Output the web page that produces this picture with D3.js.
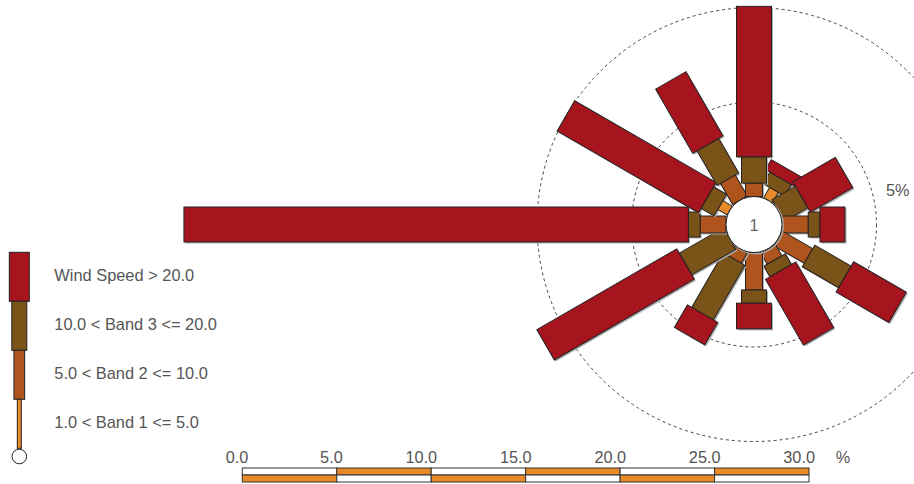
<!DOCTYPE html>
<html>
<head>
<meta charset="utf-8">
<script src="https://cdn.jsdelivr.net/npm/d3@7/dist/d3.min.js"></script>
<style>
  html, body { margin: 0; padding: 0; background: #fff; }
  svg { display: block; }
  text { font-family: "Liberation Sans", Arial, sans-serif; }
</style>
</head>
<body>
<svg id="chart" width="914" height="484"></svg>
<script>
// ---- data (percent of time per direction and speed band) ----
const directions = [0, 30, 60, 90, 120, 150, 180, 210, 240, 270, 300, 330];
const band1 = [0, 0.63, 0, 0, 0, 0, 0, 0, 0, 0, 0.58, 0];
const band2 = [0.71, 0, 0, 1.39, 1.85, 0.69, 1.98, 0.63, 0, 1.37, 0, 1.29];
const band3 = [1.39, 0.71, 1.43, 0.62, 2.22, 0.65, 0.70, 3.33, 2.70, 0.62, 0.79, 2.11];
const band4 = [7.96, 0.61, 2.59, 1.32, 3.22, 4.01, 1.36, 1.38, 8.55, 26.69, 8.64, 3.92];
const calmValue = "1";
const bandLabels = ["1.0 < Band 1 <= 5.0", "5.0 < Band 2 <= 10.0", "10.0 < Band 3 <= 20.0", "Wind Speed > 20.0"];
const ringValues = [5, 10];
const ringLabel = "5%";
const scaleTicks = [0, 5, 10, 15, 20, 25, 30];
const scaleTickLabels = ["0.0", "5.0", "10.0", "15.0", "20.0", "25.0", "30.0"];

// ---- styles ----
const colors = ["#e8892a", "#b0541e", "#7a5318", "#a6141e"];
const widths = [10, 17, 25, 35];
const legendWidths = [4, 10.7, 15, 20];
const textColor = "#555";

const svg = d3.select("#chart");
const cx = 754, cy = 224.5, calmR = 28;
const kPx = 18.9;
const r = d3.scaleLinear().domain([0, 30]).range([calmR, calmR + 30 * kPx]);

// rings
svg.append("g").selectAll("circle").data(ringValues).join("circle")
  .attr("cx", cx).attr("cy", cy).attr("r", d => r(d))
  .attr("fill", "none").attr("stroke", "#444").attr("stroke-width", 1)
  .attr("stroke-dasharray", "3,3");

svg.append("text").attr("x", 886).attr("y", 196)
  .attr("font-size", 16.3).attr("fill", textColor).text(ringLabel);

// build segments
const bands = [band1, band2, band3, band4];
const drawOrder = directions.map((d, i) => i).slice(1).concat([0]);
const rose = svg.append("g");
drawOrder.forEach(i => {
  let cum = 0;
  const segs = [];
  bands.forEach((b, j) => {
    const v = b[i];
    if (v > 0) segs.push({ r0: r(cum), r1: r(cum + v), band: j });
    cum += v;
  });
  const g = rose.append("g");
  // shadow
  g.append("g").attr("transform", `translate(${cx + 1.5},${cy + 1.5}) rotate(${directions[i]})`)
    .selectAll("rect").data(segs).join("rect")
    .attr("x", d => -widths[d.band] / 2).attr("y", d => -d.r1)
    .attr("width", d => widths[d.band]).attr("height", d => d.r1 - d.r0)
    .attr("fill", "#b0b0b0");
  g.append("g").attr("transform", `translate(${cx},${cy}) rotate(${directions[i]})`)
    .selectAll("rect").data(segs).join("rect")
    .attr("x", d => -widths[d.band] / 2).attr("y", d => -d.r1)
    .attr("width", d => widths[d.band]).attr("height", d => d.r1 - d.r0)
    .attr("fill", d => colors[d.band]).attr("stroke", "#222").attr("stroke-width", 1);
});

// calm circle
svg.append("circle").attr("cx", cx + 1.2).attr("cy", cy + 1.2).attr("r", calmR)
  .attr("fill", "none").attr("stroke", "#aaa").attr("stroke-width", 1.5);
svg.append("circle").attr("cx", cx).attr("cy", cy).attr("r", calmR)
  .attr("fill", "#fff").attr("stroke", "#222").attr("stroke-width", 1);
svg.append("text").attr("x", cx).attr("y", cy + 6).attr("text-anchor", "middle")
  .attr("font-size", 16.3).attr("fill", "#666").text(calmValue);

// legend
const lx = 19.3, segH = 49, legTop = 252.3;
const lg = svg.append("g");
const legendOrder = [3, 2, 1, 0];
legendOrder.forEach((b, k) => {
  const y0 = legTop + k * segH;
  lg.append("rect").attr("x", lx - legendWidths[b] / 2).attr("y", y0)
    .attr("width", legendWidths[b]).attr("height", segH)
    .attr("fill", colors[b]).attr("stroke", "#222").attr("stroke-width", 1);
  lg.append("text").attr("x", 54.3).attr("y", y0 + segH / 2 - 1.5)
    .attr("dominant-baseline", "central")
    .attr("font-size", 16.4).attr("fill", textColor).text(bandLabels[b]);
});
lg.append("circle").attr("cx", lx).attr("cy", 456.5).attr("r", 7.3)
  .attr("fill", "#fff").attr("stroke", "#222").attr("stroke-width", 1);

// scale bar
const sx = d3.scaleLinear().domain([0, 30]).range([242.3, 809]);
const sb = svg.append("g");
const segs = d3.pairs(scaleTicks);
segs.forEach((p, k) => {
  sb.append("rect").attr("x", sx(p[0])).attr("y", 468).attr("width", sx(p[1]) - sx(p[0])).attr("height", 7)
    .attr("fill", k % 2 === 1 ? colors[0] : "#fff").attr("stroke", "#333").attr("stroke-width", 1);
  sb.append("rect").attr("x", sx(p[0])).attr("y", 475).attr("width", sx(p[1]) - sx(p[0])).attr("height", 7)
    .attr("fill", k % 2 === 0 ? colors[0] : "#fff").attr("stroke", "#333").attr("stroke-width", 1);
});
sb.selectAll("text.tick").data(scaleTicks).join("text").attr("class", "tick")
  .attr("x", d => sx(d) + 6).attr("y", 462.7).attr("text-anchor", "end")
  .attr("font-size", 16.3).attr("fill", textColor)
  .text((d, i) => scaleTickLabels[i]);
sb.append("text").attr("x", 835.7).attr("y", 462.7)
  .attr("font-size", 16.3).attr("fill", textColor).text("%");
</script>
</body>
</html>
